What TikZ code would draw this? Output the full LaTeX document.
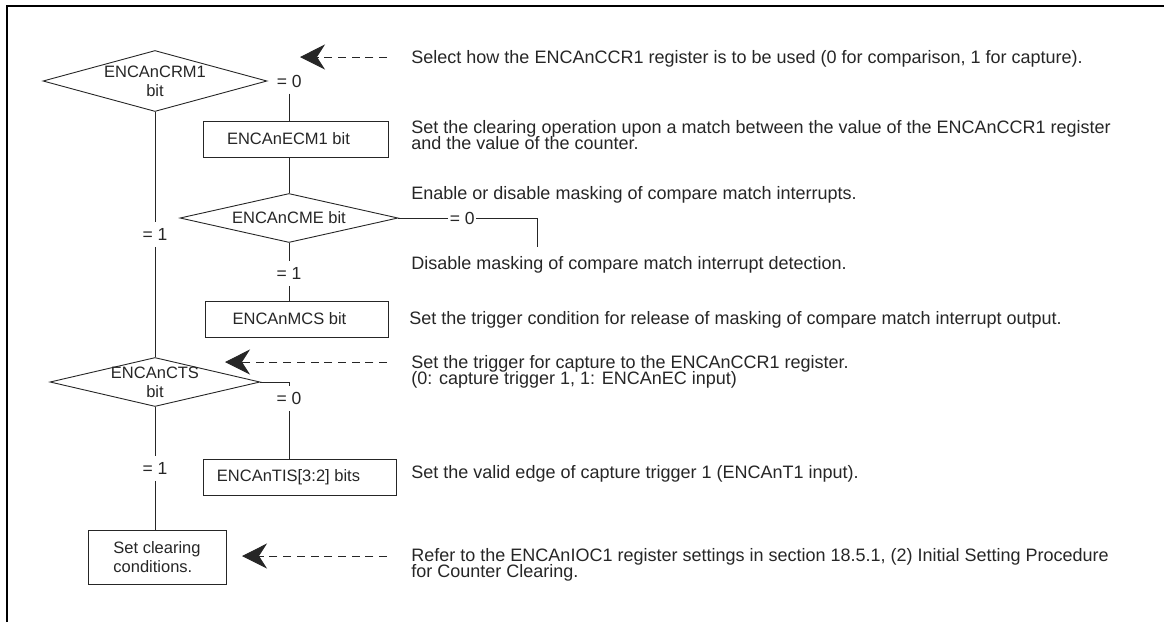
\documentclass[tikz,border=0pt]{standalone}
\usepackage{fontspec}
\setmainfont{Liberation Sans}
\usetikzlibrary{shapes.geometric,arrows.meta,positioning}
\tikzset{>=Stealth}
\newcommand{\notefont}{\fontsize{18}{16}\selectfont\lineskiplimit=-20pt\relax}

\begin{document}
\begin{tikzpicture}[x=1pt, y=-1pt, line width=0.9pt, color=black!85,
		cond/.style={diamond, draw, shape aspect=3.6, inner sep=-4pt, align=center, font=\fontsize{16.5}{19}\selectfont},
		box/.style={rectangle, draw, minimum height=36pt, font=\fontsize{16.5}{19}\selectfont},
		lbl/.style={inner xsep=1pt, inner ysep=6pt, font=\fontsize{17.5}{18}\selectfont},
		note/.style={anchor=base west, inner sep=0pt, align=left, font=\notefont},
		flow/.style={draw=black!85},
		hint/.style={-{Stealth[length=25pt, width=25pt, inset=8pt]}, dash pattern=on 8pt off 5.7pt, shorten <=24pt}]
	
	\useasboundingbox (0,0) rectangle (1169,622);
	\draw[line width=2pt, black] (7,622) -- (7,6) -- (1164,6);
	
	% flow chart
	\node[cond, minimum width=224pt, minimum height=61pt] (crm) at (155,81) {ENCAnCRM1\\bit};
	\node[box, minimum width=185pt] (ecm) at (295.5,139) {\hspace*{-14pt}ENCAnECM1 bit};
	\node[cond, minimum width=218pt, minimum height=49pt] (cme) at (289,218) {ENCAnCME bit};
	\node[box, minimum width=183pt] (mcs) at (296.5,319) {\hspace*{-14pt}ENCAnMCS bit};
	\node[cond, minimum width=210pt, minimum height=49pt] (cts) at (155,382) {ENCAnCTS\\bit};
	\node[box, minimum width=193pt] (tis) at (299.5,477) {\hspace*{-22pt}ENCAnTIS[3:2] bits};
	\node[box, minimum width=138pt, minimum height=54pt, align=left] (clr) at (157,557) {Set clearing\\conditions.};
	
	% branch labels
	\node[lbl, right=8pt of crm.east] (q0a) {= 0};
	\node[lbl, below=110pt of crm.south] (q1a) {= 1};
	\node[lbl, right=50pt of cme.east] (q0b) {= 0};
	\node[lbl, below=18pt of cme.south] (q1b) {= 1};
	\node[lbl, below=4pt] (q0c) at (cts.east -| cme) {= 0};
	\node[lbl, below=49pt of cts.south] (q1c) {= 1};
	\coordinate (drop) at (537,247);
	
	\draw[flow] (crm) -- (q1a) -- (cts);
	\draw[flow] (q0a.south) -- (q0a.south |- ecm.north);
	\draw[flow] (ecm.south -| cme.north) -- (cme.north);
	\draw[flow] (cme.east) -- (q0b) -| (drop);
	\draw[flow] (cme) -- (q1b) -- (q1b |- mcs.north);
	\draw[flow] (cts.east) -| (q0c);
	\draw[flow] (q0c) -- (q0c |- tis.north);
	\draw[flow] (cts) -- (q1c) -- (q1c |- clr.north);
	
	% notes (multi-line ones sit on their last baseline)
	\node[note] (n1) at (411,63.5) {Select how the ENCAnCCR1 register is to be used (0 for comparison, 1 for capture).};
	\node[note] (n2) at (411,149) {Set the clearing operation upon a match between the value of the ENCAnCCR1 register\\and the value of the counter.};
	\node[note] (n3) at (411,199) {Enable or disable masking of compare match interrupts.};
	\node[note] (n4) at (411,269) {Disable masking of compare match interrupt detection.};
	\node[note] (n5) at (409,324.5) {Set the trigger condition for release of masking of compare match interrupt output.};
	\node[note] (n6) at (411,384.5) {Set the trigger for capture to the ENCAnCCR1 register.\\(0: capture trigger 1, 1: ENCAnEC input)};
	\node[note] (n7) at (411,478) {Set the valid edge of capture trigger 1 (ENCAnT1 input).};
	\node[note] (n8) at (411,577) {Refer to the ENCAnIOC1 register settings in section 18.5.1, (2) Initial Setting Procedure\\for Counter Clearing.};
	
	\coordinate (tip1) at (300,57);
	\coordinate (tip2) at (225,362);
	\coordinate (tip3) at (242,556);
	\draw[hint] (tip1 -| n1.west) -- (tip1);
	\draw[hint] (tip2 -| n6.west) -- (tip2);
	\draw[hint] (tip3 -| n8.west) -- (tip3);
	
\end{tikzpicture}
\end{document}
